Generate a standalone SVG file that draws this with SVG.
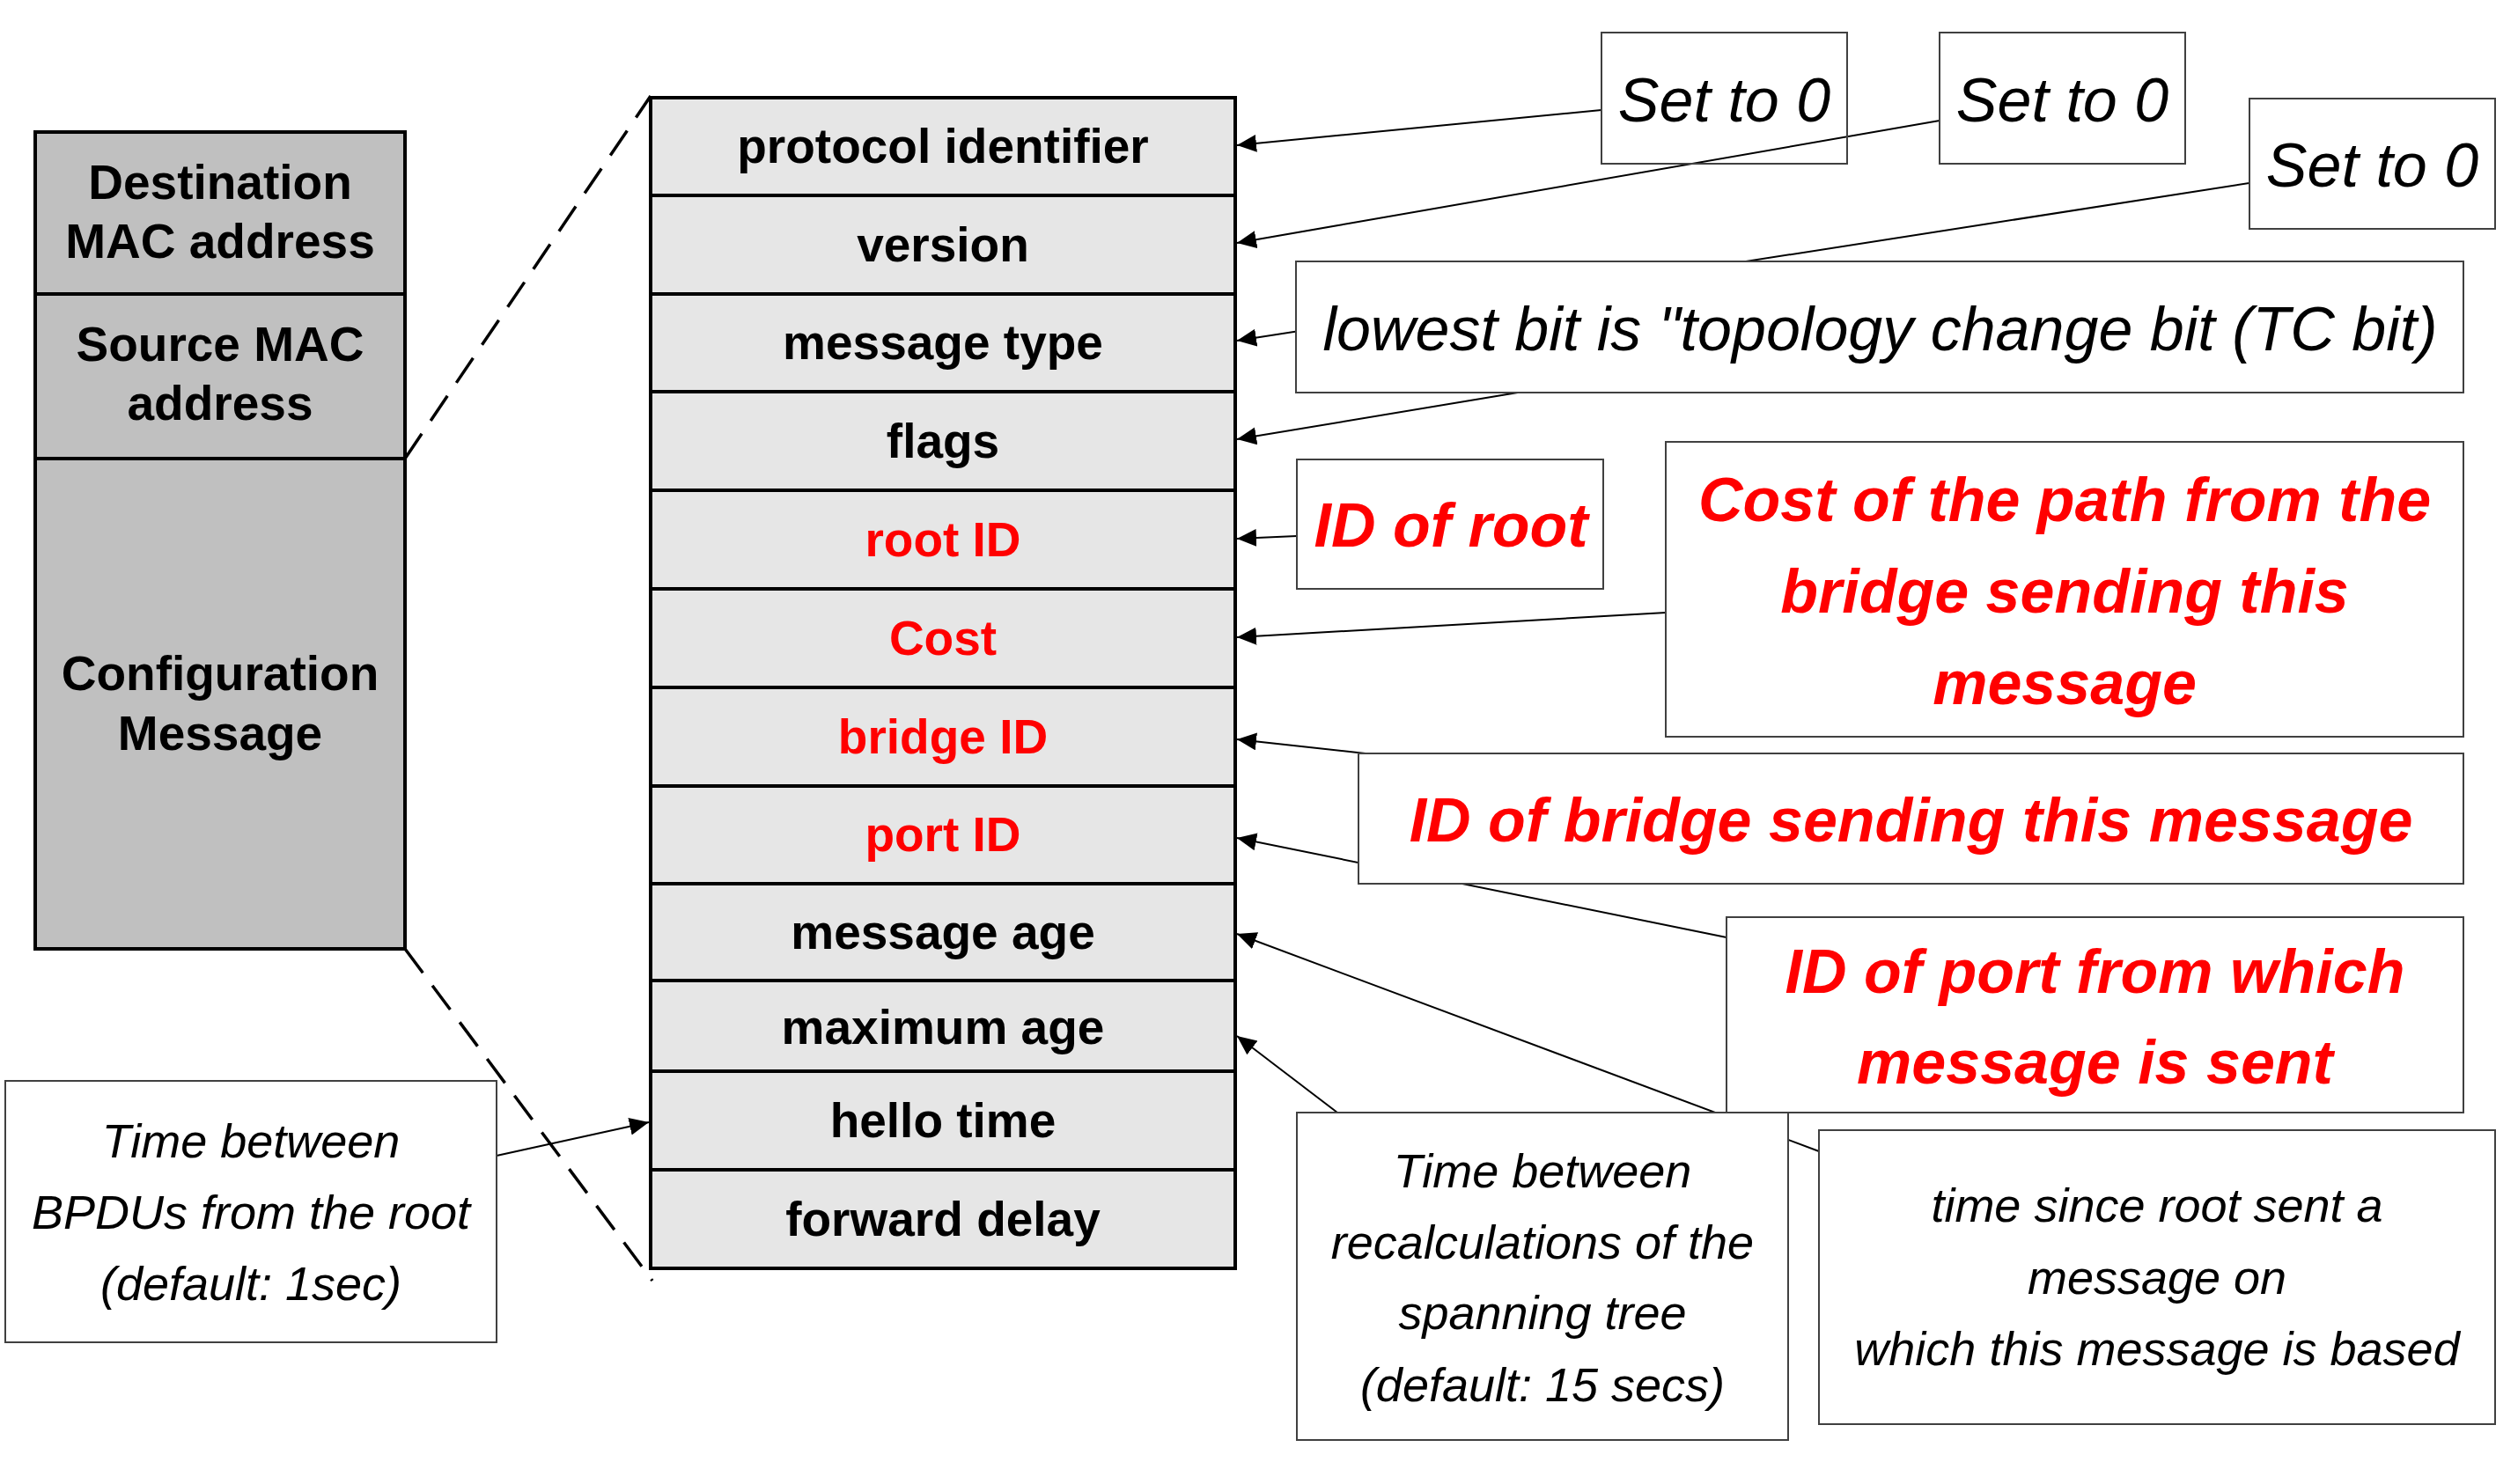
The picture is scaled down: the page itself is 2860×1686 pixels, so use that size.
<svg xmlns="http://www.w3.org/2000/svg" width="2860" height="1686" viewBox="0 0 2860 1686">
<style>
.frame{fill:#c0c0c0;stroke:#000;stroke-width:4}
.row{fill:#e6e6e6;stroke:#000;stroke-width:4}
.note{fill:#fff;stroke:#404040;stroke-width:2}
.hb{font-family:"Liberation Sans",Arial,sans-serif;font-weight:bold;font-size:55px;text-anchor:middle;fill:#000}
.red{fill:#ff0000}
.it{font-family:"Liberation Sans",Arial,sans-serif;font-style:italic;font-size:54px;text-anchor:middle;fill:#000}
.big{font-size:70px}
.rbi{font-family:"Liberation Sans",Arial,sans-serif;font-style:italic;font-weight:bold;font-size:70px;text-anchor:middle;fill:#ff0000}
.dash{fill:none;stroke:#000;stroke-width:3.5;stroke-dasharray:34 18}
.ln{fill:none;stroke:#000;stroke-width:2;marker-end:url(#ah)}
</style>
<defs>
<marker id="ah" markerUnits="userSpaceOnUse" markerWidth="24" markerHeight="22" refX="22" refY="10" orient="auto">
<path d="M0,0 L22,10 L0,20 z" fill="#000"/>
</marker>
</defs>
<rect width="2860" height="1686" fill="#fff"/>

<g id="frame">
<rect class="frame" x="40" y="150" width="420" height="184"/>
<rect class="frame" x="40" y="334" width="420" height="187"/>
<rect class="frame" x="40" y="521" width="420" height="557"/>
<text class="hb" x="250" y="226">Destination</text>
<text class="hb" x="250" y="293">MAC address</text>
<text class="hb" x="250" y="410">Source MAC</text>
<text class="hb" x="250" y="477">address</text>
<text class="hb" x="250" y="784">Configuration</text>
<text class="hb" x="250" y="852">Message</text>
</g>

<g id="bpdu">
<rect class="row" x="739" y="111" width="664" height="111"/>
<rect class="row" x="739" y="222" width="664" height="112"/>
<rect class="row" x="739" y="334" width="664" height="111"/>
<rect class="row" x="739" y="445" width="664" height="112"/>
<rect class="row" x="739" y="557" width="664" height="112"/>
<rect class="row" x="739" y="669" width="664" height="112"/>
<rect class="row" x="739" y="781" width="664" height="112"/>
<rect class="row" x="739" y="893" width="664" height="111"/>
<rect class="row" x="739" y="1004" width="664" height="110"/>
<rect class="row" x="739" y="1114" width="664" height="103"/>
<rect class="row" x="739" y="1217" width="664" height="112"/>
<rect class="row" x="739" y="1329" width="664" height="112"/>
<text class="hb" x="1071" y="185">protocol identifier</text>
<text class="hb" x="1071" y="297">version</text>
<text class="hb" x="1071" y="408">message type</text>
<text class="hb" x="1071" y="520">flags</text>
<text class="hb red" x="1071" y="632">root ID</text>
<text class="hb red" x="1071" y="744">Cost</text>
<text class="hb red" x="1071" y="856">bridge ID</text>
<text class="hb red" x="1071" y="967">port ID</text>
<text class="hb" x="1071" y="1078">message age</text>
<text class="hb" x="1071" y="1186">maximum age</text>
<text class="hb" x="1071" y="1292">hello time</text>
<text class="hb" x="1071" y="1404">forward delay</text>
</g>

<g id="connectors">
<path class="dash" d="M460,521 L739,109"/>
<path class="dash" d="M460,1078 L741,1455"/>
<path class="ln" d="M1819,125 L1405,165"/>
<path class="ln" d="M2203,137 L1405,276"/>
<path class="ln" d="M2600,201 L1405,387"/>
<path class="ln" d="M1760,440 L1405,499"/>
<path class="ln" d="M1473,609 L1405,612"/>
<path class="ln" d="M1892,696 L1405,724"/>
<path class="ln" d="M1560,857 L1405,840"/>
<path class="ln" d="M1961,1065 L1405,952"/>
<path class="ln" d="M2066,1308 L1405,1061"/>
<path class="ln" d="M1519,1264 L1405,1177"/>
<path class="ln" d="M564,1313 L737,1275"/>
</g>

<g id="note-set0-a">
<rect class="note" x="1819" y="37" width="279" height="149" style="fill:none"/>
<text class="it big" x="1958.5" y="138">Set to 0</text>
</g>
<g id="note-set0-b">
<rect class="note" x="2203" y="37" width="279" height="149"/>
<text class="it big" x="2342.5" y="138">Set to 0</text>
</g>
<g id="note-set0-c">
<rect class="note" x="2555" y="112" width="279" height="148"/>
<text class="it big" x="2694.5" y="212">Set to 0</text>
</g>
<g id="note-tc">
<rect class="note" x="1472" y="297" width="1326" height="149"/>
<text class="it big" x="2135.5" y="398">lowest bit is "topology change bit (TC bit)</text>
</g>
<g id="note-root">
<rect class="note" x="1473" y="522" width="348" height="147"/>
<text class="rbi" x="1648" y="621">ID of root</text>
</g>
<g id="note-cost">
<rect class="note" x="1892" y="502" width="906" height="335"/>
<text class="rbi" x="2345" y="592">Cost of the path from the</text>
<text class="rbi" x="2345" y="696">bridge sending this</text>
<text class="rbi" x="2345" y="800">message</text>
</g>
<g id="note-bridge">
<rect class="note" x="1543" y="856" width="1255" height="148"/>
<text class="rbi" x="2170.5" y="956">ID of bridge sending this message</text>
</g>
<g id="note-port">
<rect class="note" x="1961" y="1042" width="837" height="222"/>
<text class="rbi" x="2379.5" y="1128">ID of port from which</text>
<text class="rbi" x="2379.5" y="1231">message is sent</text>
</g>
<g id="note-forward">
<rect class="note" x="1473" y="1264" width="558" height="372"/>
<text class="it" x="1752" y="1349">Time between</text>
<text class="it" x="1752" y="1430">recalculations of the</text>
<text class="it" x="1752" y="1510">spanning tree</text>
<text class="it" x="1752" y="1592">(default: 15 secs)</text>
</g>
<g id="note-age">
<rect class="note" x="2066" y="1284" width="768" height="334"/>
<text class="it" x="2450" y="1388">time since root sent a</text>
<text class="it" x="2450" y="1470">message on</text>
<text class="it" x="2450" y="1551">which this message is based</text>
</g>
<g id="note-hello">
<rect class="note" x="6" y="1228" width="558" height="297"/>
<text class="it" x="285" y="1315">Time between</text>
<text class="it" x="285" y="1396">BPDUs from the root</text>
<text class="it" x="285" y="1477">(default: 1sec)</text>
</g>
</svg>
